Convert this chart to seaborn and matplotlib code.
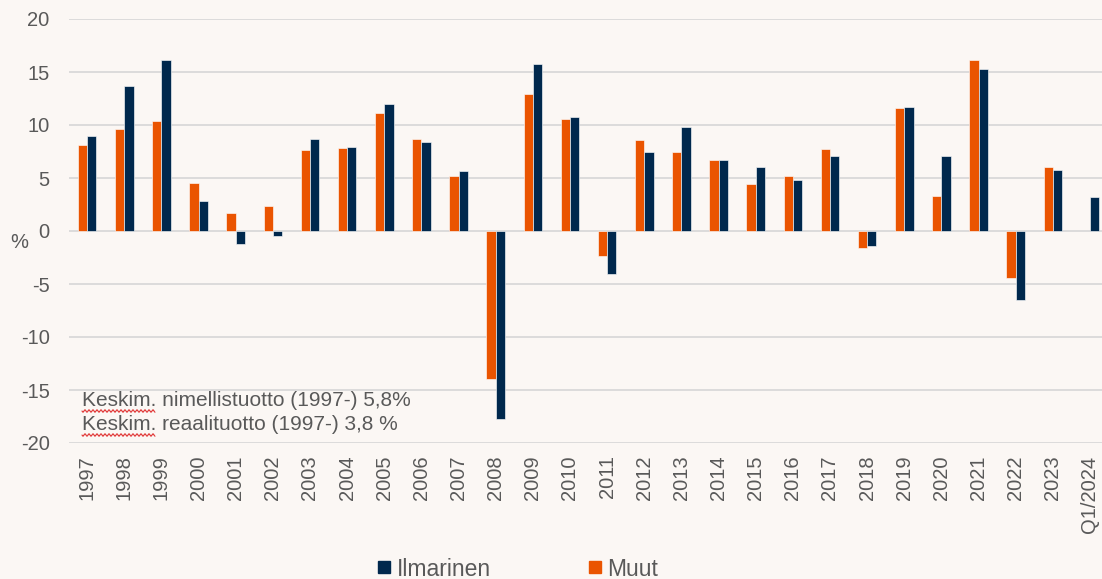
import matplotlib
matplotlib.use('Agg')
from matplotlib import pyplot as plt
from matplotlib.lines import Line2D
import numpy as np
import pandas as pd
import seaborn as sns

# data (annual return, %)
years = [str(y) for y in range(1997, 2024)] + ['Q1/2024']
ilmarinen = [9.0, 13.7, 16.1, 2.8, -1.2, -0.5, 8.7, 7.9, 12.0, 8.4, 5.7, -17.7,
             15.8, 10.8, -4.1, 7.5, 9.8, 6.7, 6.0, 4.8, 7.1, -1.4, 11.7, 7.1,
             15.3, -6.5, 5.8, 3.2]
muut = [8.1, 9.6, 10.4, 4.5, 1.7, 2.4, 7.6, 7.8, 11.1, 8.7, 5.2, -14.0,
        12.9, 10.6, -2.4, 8.6, 7.5, 6.7, 4.4, 5.2, 7.7, -1.6, 11.6, 3.3,
        16.1, -4.4, 6.0, np.nan]
series_names = ['Ilmarinen', 'Muut']
notes = ['Keskim. nimellistuotto (1997-) 5,8%',
         'Keskim. reaalituotto (1997-) 3,8 %']

df = pd.DataFrame({
    'year': years * 2,
    'value': muut + ilmarinen,
    'series': ['Muut'] * len(years) + ['Ilmarinen'] * len(years),
})

bg = '#FBF7F4'
orange = '#EA5400'
navy = '#00284D'
grey_txt = '#595959'

sns.set_style('white', {'axes.facecolor': bg, 'figure.facecolor': bg})
plt.rcParams['font.family'] = ['Liberation Sans', 'DejaVu Sans']
plt.rcParams['axes.unicode_minus'] = False

fig = plt.figure(figsize=(11.02, 5.79), dpi=100)
W, H = 1102, 579
ax = fig.add_axes([68.5 / W, 1 - 443 / H, 1040 / W, 424 / H])

for y in range(-20, 21, 5):
    ax.axhline(y, color='#D9D9D9', lw=1.3, zorder=0)

sns.barplot(data=df, x='year', y='value', hue='series',
            hue_order=['Muut', 'Ilmarinen'],
            palette={'Muut': orange, 'Ilmarinen': navy}, saturation=1,
            width=0.5, errorbar=None, legend=False,
            edgecolor=(1, 1, 1, 0.6), linewidth=0.7, ax=ax, zorder=2)

ax.set_ylim(-20, 20)
ax.set_yticks(range(-20, 21, 5))
ax.set_xlim(-0.5, len(years) - 0.5)
ax.tick_params(axis='y', length=0, pad=13.5, labelsize=14.5, labelcolor=grey_txt)
ax.tick_params(axis='x', length=0, pad=9, labelsize=14.5, labelcolor=grey_txt,
               labelrotation=90)
ax.set_xlabel('')
ax.set_ylabel('')
sns.despine(ax=ax, left=True, bottom=True)

fig.text(19 / W, 1 - 242 / H, '%', ha='center', va='center',
         fontsize=14.5, color=grey_txt)
for i, note in enumerate(notes):
    yc = 400 + 24 * i
    fig.text(82 / W, 1 - yc / H, note, ha='left', va='center',
             fontsize=15, color=grey_txt)
    # spell-check squiggle under "Keskim."
    xs = np.linspace(82, 155, 120)
    ys = yc + 11 + 1.2 * np.sin((xs - 82) / 4.0 * 2 * np.pi)
    fig.add_artist(Line2D(xs / W, 1 - ys / H, color='#E03030', lw=0.8))

handles = [Line2D([], [], marker='s', linestyle='', markersize=8.6,
                  markerfacecolor=c, markeredgecolor=c)
           for c in (navy, orange)]
fig.legend(handles, series_names, loc='center', ncol=2,
           bbox_to_anchor=(516 / W, 1 - 569 / H), frameon=False,
           fontsize=16.5, labelcolor=grey_txt, columnspacing=4.1,
           handletextpad=0.1, handlelength=0.9)

fig.savefig('out.png', dpi=100, facecolor=bg)
